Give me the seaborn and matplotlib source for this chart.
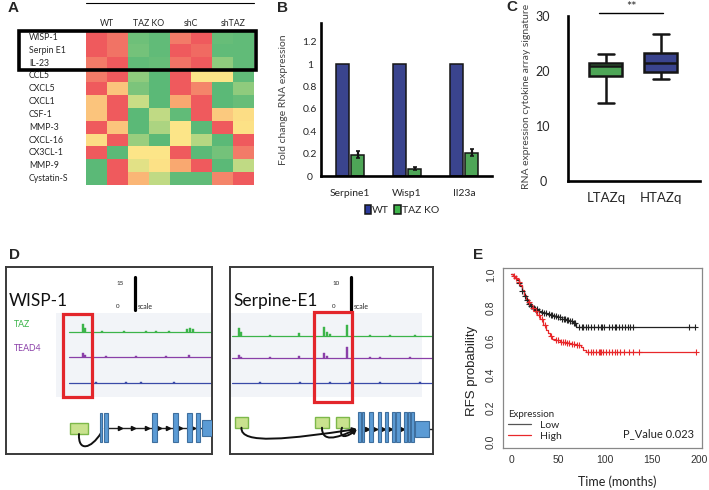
import numpy as np
import pandas as pd
import matplotlib
matplotlib.use('Agg')
import matplotlib.pyplot as plt
import seaborn as sns
from matplotlib.colors import LinearSegmentedColormap
from matplotlib.patches import Rectangle, Patch, FancyArrowPatch
from matplotlib.path import Path

# ---------------- data ----------------
# A: cytokine array heat map (red = high, green = low)
genes = ['WISP-1', 'Serpin E1', 'IL-23', 'CCL5', 'CXCL5', 'CXCL1', 'CSF-1',
         'MMP-3', 'CXCL-16', 'CX3CL-1', 'MMP-9', 'Cystatin-S']
conditions = ['WT', 'TAZ KO', 'shC', 'shTAZ']
heat_values = [
    [1.0, 0.85, -0.85, -0.95, 0.8, 1.0, -0.9, -0.95],
    [1.0, 0.85, -0.8, -0.95, 1.0, 0.9, -0.95, -0.95],
    [0.8, 1.0, -0.95, -0.9, 0.85, 1.0, -0.6, -0.95],
    [0.8, 1.0, -0.6, -1.0, 1.0, 0.0, 0.0, -0.95],
    [1.0, 0.4, -0.75, -1.0, 1.0, 0.75, -1.0, -0.6],
    [0.4, 1.0, -0.3, -1.0, 0.6, 1.0, -1.0, -0.9],
    [0.4, 1.0, -1.0, -0.35, -0.95, 1.0, 0.35, 0.1],
    [1.0, 0.4, -1.0, -0.45, 0.0, -1.0, 1.0, 0.05],
    [0.1, 1.0, -0.55, -1.0, 0.0, -0.4, -1.0, 1.0],
    [1.0, -1.0, 0.0, 0.0, 1.0, -1.0, -0.8, 0.8],
    [-1.0, 1.0, -0.15, 0.05, 0.6, 1.0, -1.0, -0.35],
    [-1.0, 1.0, 0.5, -0.35, -0.95, -0.95, 0.75, 1.0],
]

# B: qPCR fold change
qpcr_genes = ['Serpine1', 'Wisp1', 'Il23a']
wt_fold = [1.0, 1.0, 1.0]
ko_fold = [0.19, 0.065, 0.21]
ko_err = [0.03, 0.015, 0.035]

# C: cytokine signature (min, Q1, median, Q3, max)
ltaz_scores = [14.1, 19.0, 20.9, 21.5, 23.0]
htaz_scores = [18.5, 19.7, 21.5, 23.2, 26.6]

# D: ChIP-seq tracks (position, height) in locus units
wisp_taz = [(77, 8), (79, 4), (96, 1), (118, 1), (140, 1), (150, 1), (163, 1),
            (181, 3), (184, 4), (187, 3)]
wisp_tead = [(77, 4), (79, 2), (100, 1), (130, 1), (160, 1), (183, 2)]
wisp_input = [(90, 1), (120, 1), (135, 1), (168, 1)]
serp_taz = [(9, 8), (11, 4), (40, 1), (69, 3), (94, 9), (97, 4), (100, 2),
            (117, 11), (140, 1), (160, 1), (185, 1)]
serp_tead = [(9, 3), (11, 1), (40, 1), (69, 2.5), (94, 5), (97, 2), (117, 11),
             (140, 1), (150, 1), (180, 1)]
serp_input = [(30, 1), (70, 1), (100, 1), (120, 1), (150, 1), (190, 1)]
wisp_enh = [(64, 82)]
serp_enh = [(5, 18), (85, 99), (106, 119)]
wisp_exons = [(94, 96), (98, 102), (146, 151), (167, 172), (181, 186), (190, 194)]
wisp_utr = (196, 210)
serp_exons = [(128, 131), (131.5, 134), (139, 142.7), (147.7, 151), (155, 158),
              (161.7, 165), (165.7, 170), (174, 177), (177.5, 180), (180.5, 184)]
serp_utr = (185, 199)
wisp_arrows = [114, 127, 141, 153, 162, 174, 187]
serp_arrows = [137, 145, 153, 160, 172]

# E: Kaplan-Meier RFS
low_t = [0, 2, 4, 6, 8, 10, 12, 14, 16, 18, 20, 23, 26, 29, 32, 35, 38, 42, 46,
         50, 54, 58, 62, 66, 69, 195]
low_s = [1.0, 0.99, 0.98, 0.965, 0.95, 0.93, 0.90, 0.87, 0.845, 0.825, 0.81,
         0.80, 0.79, 0.78, 0.775, 0.77, 0.765, 0.757, 0.75, 0.742, 0.735,
         0.728, 0.72, 0.71, 0.688, 0.688]
high_t = [0, 2, 4, 6, 8, 10, 12, 14, 16, 18, 20, 22, 25, 28, 31, 34, 37, 39,
          41, 44, 47, 52, 58, 64, 70, 74, 77, 80, 197]
high_s = [1.0, 0.99, 0.98, 0.97, 0.955, 0.935, 0.905, 0.875, 0.855, 0.835,
          0.82, 0.80, 0.78, 0.755, 0.73, 0.70, 0.67, 0.65, 0.63, 0.615, 0.605,
          0.598, 0.592, 0.585, 0.578, 0.565, 0.55, 0.538, 0.538]
low_cens = [9, 12, 15, 17, 19, 21, 24, 26, 28, 30, 33, 35, 37, 40, 42, 44, 46,
            48, 50, 52, 54, 56, 57, 59, 61, 63, 65, 67, 68, 72, 75, 77, 80, 82,
            85, 88, 92, 96, 97, 99, 104, 107, 110, 112, 115, 118, 121, 124,
            126, 130, 189, 195]
high_cens = [3, 5, 8, 19, 23, 27, 30, 33, 36, 43, 48, 50, 53, 55, 57, 60, 62,
             65, 67, 70, 72, 82, 85, 87, 90, 93, 95, 96, 98, 101, 104, 107,
             110, 113, 116, 120, 125, 130, 136, 197]

# ---------------- style ----------------
sns.set_style('white')
plt.rcParams['font.family'] = ['Lato', 'DejaVu Sans']
ARIAL = ['Liberation Sans', 'DejaVu Sans']
BLUE = '#2c3a9c'
GREEN = '#3fb54b'

W, H = 709, 490
fig = plt.figure(figsize=(W / 100, H / 100), dpi=100)


def add_ax(x0, y0, x1, y1):
    return fig.add_axes([x0 / W, 1 - y1 / H, (x1 - x0) / W, (y1 - y0) / H])


def panel_label(x, y, s):
    fig.text(x / W, 1 - y / H, s, family=ARIAL, fontweight='bold',
             fontsize=11, ha='center', va='center')


# ---------------- A ----------------
cmap = LinearSegmentedColormap.from_list('gyr', [
    (0.0, '#5bb977'), (0.2, '#8fcb7d'), (0.35, '#c9dd85'), (0.5, '#fce588'),
    (0.7, '#fbc57c'), (0.8, '#f9a870'), (0.9, '#f27c68'), (1.0, '#ef5a5d')])
cols = [f'{c} {i}' for c in conditions for i in (1, 2)]
heat_df = pd.DataFrame(heat_values, index=genes, columns=cols)
axA = add_ax(86, 31, 254, 185)
sns.heatmap(heat_df, cmap=cmap, vmin=-1, vmax=1, cbar=False, ax=axA,
            xticklabels=False, yticklabels=True)
axA.tick_params(axis='y', length=0, pad=41, labelsize=6.3)
for lab in axA.get_yticklabels():
    lab.set_ha('left')
    lab.set_rotation(0)
axA.set_ylabel('')
for i, c in enumerate(conditions):
    axA.text(2 * i + 1, -0.55, c, ha='center', va='center', fontsize=6.3)
axA.plot([0, 8], [-2.15, -2.15], color='black', lw=0.8, clip_on=False)
axA.add_patch(Rectangle((-3.19, 0.0), 11.3, 3.05, fill=False, lw=2.6,
                        ec='black', clip_on=False))
panel_label(13, 8, 'A')

# ---------------- B ----------------
bar_df = pd.DataFrame({
    'gene': qpcr_genes * 2,
    'fold': wt_fold + ko_fold,
    'group': ['WT'] * 3 + ['TAZ KO'] * 3,
})
axB = add_ax(321, 23.3, 492, 176)
sns.barplot(data=bar_df, x='gene', y='fold', hue='group', palette=[BLUE, GREEN],
            width=0.53, gap=0.12, edgecolor='#151515', linewidth=1.1,
            errorbar=None, ax=axB, legend=False)
ko_bars = axB.patches[3:6]
axB.errorbar([p.get_x() + p.get_width() / 2 for p in ko_bars], ko_fold,
             yerr=ko_err, fmt='none', ecolor='#151515', elinewidth=1.6,
             capsize=1.5, capthick=1.2)
axB.set_xlim(-0.51, 2.49)
axB.set_ylim(0, 1.367)
axB.set_yticks([0, 0.2, 0.4, 0.6, 0.8, 1.0, 1.2])
axB.set_yticklabels(['0', '0.2', '0.4', '0.6', '0.8', '1', '1.2'])
axB.tick_params(axis='y', length=0, pad=8, labelsize=7.5)
for lab in axB.get_yticklabels():
    lab.set_ha('center')
axB.tick_params(axis='x', length=0, pad=9, labelsize=7.5)
for s in ['top', 'right']:
    axB.spines[s].set_visible(False)
for s in ['left', 'bottom']:
    axB.spines[s].set_linewidth(1.9)
    axB.spines[s].set_color('black')
axB.set_xlabel('')
axB.set_ylabel('Fold change RNA expression', fontsize=7.5, color='#444')
axB.yaxis.set_label_coords(-0.193, 0.5)
handles = [Patch(fc=BLUE, ec='#151515', lw=1.1, label='WT'),
           Patch(fc=GREEN, ec='#151515', lw=1.1, label='TAZ KO')]
fig.legend(handles=handles, loc='center', bbox_to_anchor=(402 / W, 1 - 210 / H),
           ncol=2, frameon=False, fontsize=7.5, handlelength=0.6,
           handleheight=1.0, handletextpad=0.15, columnspacing=0.5)
panel_label(282, 8, 'B')

# ---------------- C ----------------
box_df = pd.DataFrame({
    'group': ['LTAZq'] * len(ltaz_scores) + ['HTAZq'] * len(htaz_scores),
    'score': ltaz_scores + htaz_scores,
})
axC = add_ax(568, 15.7, 700, 181)
sns.boxplot(data=box_df, x='group', y='score', hue='group',
            palette=[GREEN, BLUE], width=0.6, whis=(0, 100), linewidth=1.8,
            linecolor='#151515', ax=axC, legend=False)
axC.set_xlim(-0.69, 1.71)
axC.set_ylim(0, 30)
axC.set_yticks([0, 10, 20, 30])
axC.tick_params(axis='y', length=0, pad=18, labelsize=9)
for lab in axC.get_yticklabels():
    lab.set_ha('center')
axC.tick_params(axis='x', length=0, pad=8, labelsize=9.5)
for s in ['top', 'right']:
    axC.spines[s].set_visible(False)
for s in ['left', 'bottom']:
    axC.spines[s].set_linewidth(1.9)
    axC.spines[s].set_color('black')
axC.set_xlabel('')
axC.set_ylabel('RNA expression cytokine array signature', fontsize=7.5,
               color='#444')
axC.yaxis.set_label_coords(-0.28, 0.51)
axC.plot([-0.13, 1.04], [30.4, 30.4], color='black', lw=1.0, clip_on=False)
axC.text(0.47, 32.6, '**', ha='center', va='top', fontsize=9,
         clip_on=False)
panel_label(512, 7, 'C')


# ---------------- D ----------------
def draw_locus(ax, width, title, scale_max, scale_x, tracks, track_x0,
               red_box, enhancers, enh_y, exons, utr, exon_y, intron_y,
               arrows, gene_start, curves, show_names):
    ax.set_xlim(0, width)
    ax.set_ylim(187, 0)
    ax.set_xticks([])
    ax.set_yticks([])
    for s in ax.spines.values():
        s.set_color('#3a3a3a')
        s.set_linewidth(1.4)
    ax.add_patch(Rectangle((track_x0 - 13, 46), width, 84, fc='#f2f4f8',
                           ec='none', zorder=0))
    for peaks, base, color in tracks:
        ax.plot([track_x0, width], [base, base], color=color, lw=0.9, zorder=2)
        xs = [p[0] for p in peaks]
        hs = [p[1] for p in peaks]
        ax.bar(xs, [-h for h in hs], bottom=base, width=2.2, color=color,
               edgecolor=color, linewidth=0.3, zorder=2)
    ax.add_patch(Rectangle((red_box[0], red_box[1]), red_box[2] - red_box[0],
                           red_box[3] - red_box[1], fill=False, ec='#e3262b',
                           lw=2.3, zorder=5))
    ax.text(3, 34, title, fontsize=12.5, va='center', ha='left', color='#111')
    ax.plot([scale_x, scale_x], [10, 43], color='black', lw=2.3)
    ax.text(scale_x - 19, 16, str(scale_max), fontsize=4.5, va='center',
            ha='left')
    ax.text(scale_x - 19, 39, '0', fontsize=4.5, va='center', ha='left')
    ax.text(scale_x + 3, 39, 'scale', fontsize=5, va='center', ha='left')
    if show_names:
        ax.text(8, 57, 'TAZ', color='#3cb44a', fontsize=6.3, va='center')
        ax.text(8, 81, 'TEAD4', color='#8a3fa8', fontsize=6.3, va='center')
    for x0, x1 in enhancers:
        ax.add_patch(Rectangle((x0, enh_y[0]), x1 - x0, enh_y[1] - enh_y[0],
                               fc='#c9e28e', ec='#7db84a', lw=1.0, zorder=3))
    ax.plot([gene_start, width], [intron_y, intron_y], color='#222', lw=1.0,
            zorder=3)
    ax.plot(arrows, [intron_y] * len(arrows), ls='none', marker='>',
            color='#111', ms=3, zorder=4)
    for x0, x1 in exons:
        ax.add_patch(Rectangle((x0, exon_y[0]), x1 - x0, exon_y[1] - exon_y[0],
                               fc='#5b9bd5', ec='#3f6f9e', lw=0.8, zorder=5))
    ax.add_patch(Rectangle((utr[0], intron_y - 8), utr[1] - utr[0], 16,
                           fc='#5b9bd5', ec='#3f6f9e', lw=0.8, zorder=5))
    for verts, arrow in curves:
        path = Path(verts, [Path.MOVETO, Path.CURVE4, Path.CURVE4, Path.CURVE4])
        ax.add_patch(FancyArrowPatch(path=path,
                                     arrowstyle='-|>' if arrow else '-',
                                     mutation_scale=6, lw=1.4, color='#111',
                                     zorder=4))


axD1 = add_ax(6, 267, 212, 454)
draw_locus(axD1, 206, 'WISP-1', 15, 129,
           [(wisp_taz, 65, '#3cb44a'), (wisp_tead, 90, '#8a3fa8'),
            (wisp_input, 116, '#3a4aa8')], 63, (57, 47, 86, 130),
           wisp_enh, (156, 167), wisp_exons, wisp_utr, (146, 175), 160.7,
           wisp_arrows, 98,
           [([(73, 167), (72, 185), (85, 182), (95, 166)], False)], True)

axD2 = add_ax(230, 267, 433, 454)
draw_locus(axD2, 203, 'Serpine-E1', 10, 121,
           [(serp_taz, 68.7, '#3cb44a'), (serp_tead, 91, '#8a3fa8'),
            (serp_input, 116, '#3a4aa8')], 2, (84, 44.7, 121.7, 134.7),
           serp_enh, (149.7, 160.7), serp_exons, serp_utr, (144.7, 174.7),
           162, serp_arrows, 128,
           [([(11.5, 160.7), (10, 178), (60, 172), (127, 162)], True),
            ([(92, 160.7), (92, 175), (105, 172), (127, 162)], True),
            ([(112, 160.7), (108, 173), (118, 170), (127, 162)], True)], False)
panel_label(14, 255, 'D')

# ---------------- E ----------------
axE = add_ax(503, 268, 702, 448)
axE.step(low_t, low_s, where='post', color='#222', lw=0.9)
axE.step(high_t, high_s, where='post', color='#e8282b', lw=0.9)


def surv_at(ts, ss, times):
    idx = np.searchsorted(ts, times, side='right') - 1
    return np.array(ss)[idx]


axE.plot(low_cens, surv_at(low_t, low_s, low_cens), ls='none', marker='+',
         ms=4, mew=0.8, color='#222')
axE.plot(high_cens, surv_at(high_t, high_s, high_cens), ls='none', marker='+',
         ms=4, mew=0.8, color='#e8282b')
axE.set_xlim(-8.5, 202.9)
axE.set_ylim(-0.0376, 1.0376)
axE.set_xticks([0, 50, 100, 150, 200])
axE.set_yticks([0, 0.2, 0.4, 0.6, 0.8, 1.0])
axE.set_yticklabels(['0.0', '0.2', '0.4', '0.6', '0.8', '1.0'], rotation=90,
                    va='center', family=ARIAL)
axE.set_xticklabels(['0', '50', '100', '150', '200'], family=ARIAL)
axE.tick_params(axis='both', length=3, width=0.7, color='#777',
                labelsize=7.5, pad=2, labelcolor='#333')
for s in axE.spines.values():
    s.set_color('#888')
    s.set_linewidth(0.9)
axE.set_ylabel('RFS probability', family=ARIAL, fontsize=9.5, color='#222')
axE.yaxis.set_label_coords(-0.126, 0.43)
axE.set_xlabel('Time (months)', fontsize=9, color='#222')
axE.xaxis.set_label_coords(0.573, -0.15)
axE.legend(handles=[plt.Line2D([], [], color='#555', lw=0.9, label='Low'),
                    plt.Line2D([], [], color='#e8282b', lw=0.9, label='High')],
           title='Expression', loc='lower left', bbox_to_anchor=(-0.01, 0.0),
           frameon=False, fontsize=7.5, title_fontsize=7, alignment='left',
           handlelength=2.2, labelspacing=0.15, borderaxespad=0.3)
axE.text(0.96, 0.08, 'P_Value 0.023', transform=axE.transAxes, ha='right',
         va='center', fontsize=8, color='#222')
panel_label(478, 255, 'E')

fig.savefig('out.png', dpi=100)
